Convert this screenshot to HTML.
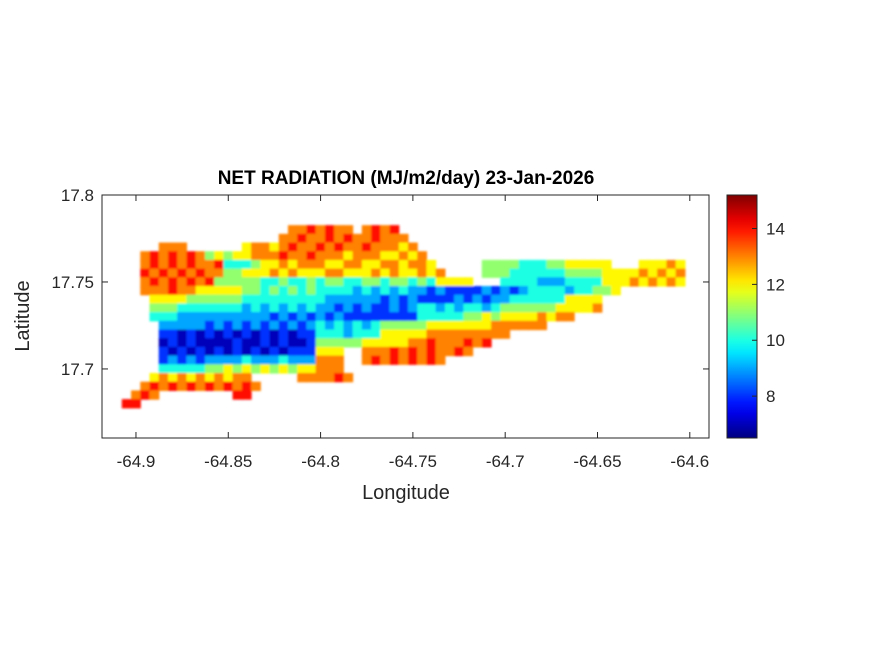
<!DOCTYPE html>
<html><head><meta charset="utf-8"><style>
html,body{margin:0;padding:0;background:#fff;width:875px;height:656px;overflow:hidden}
text{font-family:"Liberation Sans",Arial,sans-serif;fill:#262626}
</style></head><body>
<svg id="fig" width="875" height="656" viewBox="0 0 875 656" xmlns="http://www.w3.org/2000/svg">
<defs><filter id="soft" x="-5%" y="-5%" width="110%" height="110%"><feGaussianBlur stdDeviation="1.1"/></filter></defs>
<rect width="875" height="656" fill="#fff"/>
<g id="cells" filter="url(#soft)"></g>
<g id="axes"></g>
<g id="cbar"></g>
<text x="406" y="184" text-anchor="middle" font-size="19" font-weight="bold" style="fill:#000">NET RADIATION (MJ/m2/day) 23-Jan-2026</text>
<text x="406" y="499" text-anchor="middle" font-size="20">Longitude</text>
<text transform="translate(29,316) rotate(-90)" text-anchor="middle" font-size="20">Latitude</text>
</svg>
<script>
// grid definition (data coords)
const lon0 = -64.905, lonStep = 0.005;
const lat0 = 17.785, latStep = 0.005;
// cell codes: '.' = no data, digit d => value 6 + d (MJ/m2/day)
const gridRows = [
"",
"..................7787877.7878",
".................77877878778777",
"....777......6776787787877877767",
"..7878787565667778778777677766767",
"..78787877844456676777667766776776.....55554445566666...66676",
"..878787877556667676667766676766767....5554444445555666676767",
"..787878785555544544545544554554546666...44443334444666767676",
"..7778776666655454545444434343433232222323234444344556",
"...6666555555444444444333333232322223232334444446666",
"...5554444444343434343323232232344343443455555566667",
"...4443333333333232323232222222244444556566667677",
"....333332323232323234343434555556666666777777",
"....22121212121212122444344466666777777777",
"....121211112112121125555566666778777878",
"....21212121212121222666..777878787787",
"....23232333343334333777..787878787",
"....44444556565656566777",
"...67676767677.....777787",
"..7878787878787",
".787........88",
"88"
];
// colour limits
const cmin = 6.5, cmax = 15.2;
const cbTicks = [8, 10, 12, 14];
const xTicks = [-64.9, -64.85, -64.8, -64.75, -64.7, -64.65, -64.6];
const xTickLabels = ["-64.9", "-64.85", "-64.8", "-64.75", "-64.7", "-64.65", "-64.6"];
const yTicks = [17.7, 17.75, 17.8];
const yTickLabels = ["17.7", "17.75", "17.8"];

const AX = {l:102, r:709, t:195, b:438};
const xMin = -64.9184, xMax = -64.5896, yMin = 17.6603, yMax = 17.8;
const xs = v => AX.l + (v - xMin) / (xMax - xMin) * (AX.r - AX.l);
const ys = v => AX.b - (v - yMin) / (yMax - yMin) * (AX.b - AX.t);
const NS = "http://www.w3.org/2000/svg";

function jet(t){
  t = Math.max(0, Math.min(1, t));
  const f = x => Math.max(0, Math.min(1, x));
  const r = f(Math.min(4*t - 1.5, -4*t + 4.5));
  const g = f(Math.min(4*t - 0.5, -4*t + 3.5));
  const b = f(Math.min(4*t + 0.5, -4*t + 2.5));
  return `rgb(${Math.round(r*255)},${Math.round(g*255)},${Math.round(b*255)})`;
}
const cw = Math.abs(xs(lon0 + lonStep) - xs(lon0)) + 0.6;
const ch = Math.abs(ys(lat0) - ys(lat0 + latStep)) + 0.6;
const cells = document.getElementById('cells');
gridRows.forEach((row, j) => {
  for (let i = 0; i < row.length; i++) {
    const c = row[i];
    if (c < '0' || c > '9') continue;
    const v = 6 + Number(c);
    const lon = lon0 + i * lonStep, lat = lat0 - j * latStep;
    const r = document.createElementNS(NS, 'rect');
    
    
    r.setAttribute('x', (xs(lon) - cw/2).toFixed(2));
    r.setAttribute('y', (ys(lat) - ch/2).toFixed(2));
    r.setAttribute('width', cw.toFixed(2));
    r.setAttribute('height', ch.toFixed(2));
    r.setAttribute('fill', jet((v - cmin) / (cmax - cmin)));
    cells.appendChild(r);
  }
});

// axes
const ax = document.getElementById('axes');
function el(tag, attrs, parent, txt){
  const e = document.createElementNS(NS, tag);
  for (const k in attrs) e.setAttribute(k, attrs[k]);
  if (txt !== undefined) e.textContent = txt;
  parent.appendChild(e);
  return e;
}
const box = el('rect', {x:AX.l, y:AX.t, width:AX.r-AX.l, height:AX.b-AX.t, fill:'none', stroke:'#262626', 'stroke-width':1}, ax);


xTicks.forEach((v, k) => {
  const x = xs(v);
  const t1 = el('line', {x1:x, x2:x, y1:AX.b, y2:AX.b-6, stroke:'#262626'}, ax);
  
  
  const t2 = el('line', {x1:x, x2:x, y1:AX.t, y2:AX.t+6, stroke:'#262626'}, ax);
  
  
  const lb = el('text', {x:x, y:AX.b+29, 'text-anchor':'middle', 'font-size':17}, ax, xTickLabels[k]);
  
  
});
yTicks.forEach((v, k) => {
  const y = ys(v);
  const t1 = el('line', {x1:AX.l, x2:AX.l+6, y1:y, y2:y, stroke:'#262626'}, ax);
  
  
  const t2 = el('line', {x1:AX.r, x2:AX.r-6, y1:y, y2:y, stroke:'#262626'}, ax);
  
  
  const lb = el('text', {x:AX.l-8, y:y+6, 'text-anchor':'end', 'font-size':17}, ax, yTickLabels[k]);
  
  
});

// colorbar
const cb = document.getElementById('cbar');
const CB = {l:727, r:757, t:195, b:438};
const cys = v => CB.b - (v - cmin) / (cmax - cmin) * (CB.b - CB.t);
const defs = el('defs', {}, cb);
const grad = el('linearGradient', {id:'jetg', x1:0, y1:1, x2:0, y2:0}, defs);
for (let k = 0; k <= 20; k++) {
  el('stop', {offset: k/20, 'stop-color': jet(k/20)}, grad);
}
const cr = el('rect', {x:CB.l, y:CB.t, width:CB.r-CB.l, height:CB.b-CB.t, fill:'url(#jetg)', stroke:'#262626', 'stroke-width':1}, cb);


cbTicks.forEach(v => {
  const y = cys(v);
  const t = el('line', {x1:CB.r, x2:CB.r-5, y1:y, y2:y, stroke:'#262626'}, cb);
  
  
  const lb = el('text', {x:CB.r+9, y:y+6, 'font-size':17}, cb, String(v));
  
  
});
</script>
</body></html>
